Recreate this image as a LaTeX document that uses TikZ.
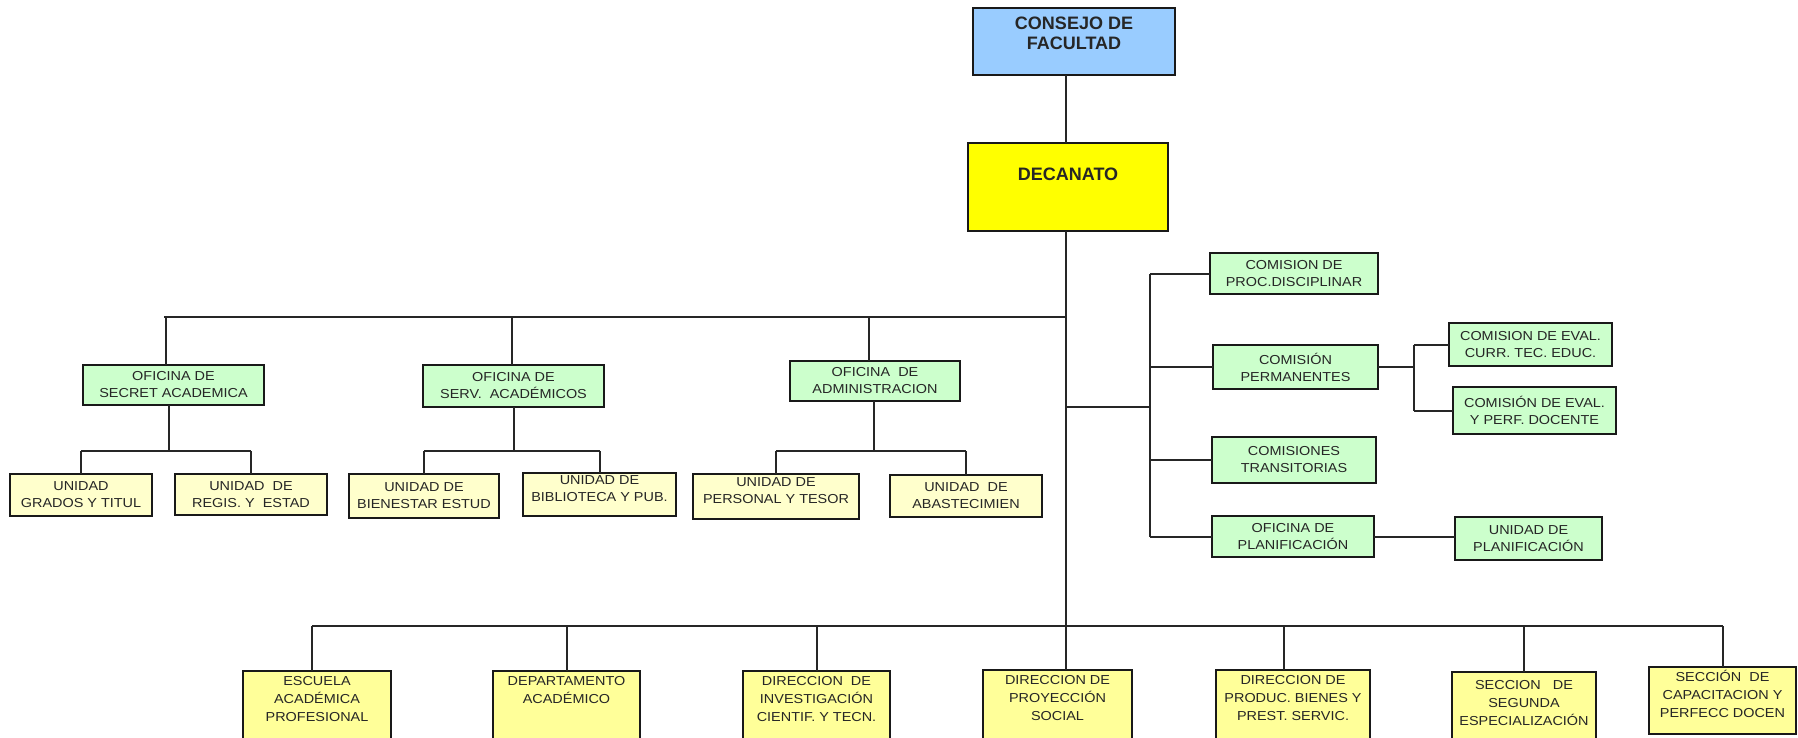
\documentclass[tikz,border=0pt]{standalone}
\usepackage{fontspec}
\newfontfamily\boxfont[FakeStretch=1.11]{Liberation Sans}
\newfontfamily\titlefont{Liberation Sans}
\usetikzlibrary{calc}
\definecolor{cblue}{HTML}{99CCFF}
\definecolor{cyel}{HTML}{FFFF00}
\definecolor{cgreen}{HTML}{CCFFCC}
\definecolor{clyel}{HTML}{FFFFCC}
\definecolor{cbyel}{HTML}{FFFF99}
\definecolor{ctext}{HTML}{262626}
\newcommand{\tbox}[4]{\parbox[c][#1][t]{#2}{\vspace*{#3}\centering #4\par}}
\tikzset{
  ob/.style={draw=black!90, line width=1.8pt, inner sep=0pt, outer sep=0pt, anchor=north west,
    align=center, font=\boxfont\fontsize{13}{17}\selectfont, text=ctext},
  bb/.style={ob, font=\boxfont\fontsize{13}{18}\selectfont},
  tb/.style={ob, font=\titlefont\bfseries\fontsize{18}{19.5}\selectfont},
  ln/.style={line width=2pt, draw=black!85}
}
\begin{document}
\begin{tikzpicture}[x=1pt,y=-1pt]
\useasboundingbox (0,0) rectangle (1798,737);
% top
\node[tb, fill=cblue, minimum width=202pt, minimum height=67pt] (cons) at (973,8)
  {\tbox{67pt}{202pt}{9pt}{CONSEJO DE\\FACULTAD}};
\node[tb, fill=cyel, minimum width=200pt, minimum height=88pt] (dec) at (968,143)
  {\tbox{88pt}{200pt}{25pt}{DECANATO}};
% offices
\node[ob, fill=cgreen, minimum width=181pt, minimum height=40pt] (sec) at (83,365) {OFICINA DE\\SECRET ACADEMICA};
\node[ob, fill=cgreen, minimum width=181pt, minimum height=42pt] (serv) at (423,365) {OFICINA DE\\SERV.\ \ ACADÉMICOS};
\node[ob, fill=cgreen, minimum width=170pt, minimum height=40pt] (adm) at (790,361) {OFICINA\ \ DE\\ADMINISTRACION};
% units
\node[ob, fill=clyel, minimum width=142pt, minimum height=42pt] (grad) at (10,474) {UNIDAD\\GRADOS Y TITUL};
\node[ob, fill=clyel, minimum width=152pt, minimum height=41pt] (regis) at (175,474) {UNIDAD\ \ DE\\REGIS. Y\ \ ESTAD};
\node[ob, fill=clyel, minimum width=150pt, minimum height=44pt] (bien) at (349,474) {UNIDAD DE\\BIENESTAR ESTUD};
\node[ob, fill=clyel, minimum width=153pt, minimum height=43pt] (bibl) at (523,473)
  {\tbox{43pt}{153pt}{3pt}{UNIDAD DE\\BIBLIOTECA Y PUB.}};
\node[ob, fill=clyel, minimum width=166pt, minimum height=45pt] (pers) at (693,474)
  {\tbox{45pt}{166pt}{4pt}{UNIDAD DE\\PERSONAL Y TESOR}};
\node[ob, fill=clyel, minimum width=152pt, minimum height=42pt] (abas) at (890,475) {UNIDAD\ \ DE\\ABASTECIMIEN};
% right side
\node[ob, fill=cgreen, minimum width=168pt, minimum height=41pt] (proc) at (1210,253) {COMISION DE\\PROC.DISCIPLINAR};
\node[ob, fill=cgreen, minimum width=165pt, minimum height=44pt] (perm) at (1213,345) {COMISIÓN\\PERMANENTES};
\node[ob, fill=cgreen, minimum width=164pt, minimum height=46pt] (trans) at (1212,437) {COMISIONES\\TRANSITORIAS};
\node[ob, fill=cgreen, minimum width=162pt, minimum height=41pt] (plan) at (1212,516) {OFICINA DE\\PLANIFICACIÓN};
\node[ob, fill=cgreen, minimum width=163pt, minimum height=43pt] (curr) at (1449,323) {COMISION DE EVAL.\\CURR. TEC. EDUC.};
\node[ob, fill=cgreen, minimum width=163pt, minimum height=47pt] (perf) at (1453,387) {COMISIÓN DE EVAL.\\Y PERF. DOCENTE};
\node[ob, fill=cgreen, minimum width=147pt, minimum height=43pt] (uplan) at (1455,517) {UNIDAD DE\\PLANIFICACIÓN};
% bottom row
\node[bb, fill=cbyel, minimum width=148pt, minimum height=74pt] (esc) at (243,671)
  {\tbox{74pt}{148pt}{5pt}{ESCUELA\\ACADÉMICA\\PROFESIONAL}};
\node[bb, fill=cbyel, minimum width=147pt, minimum height=74pt] (dept) at (493,671)
  {\tbox{74pt}{147pt}{5pt}{DEPARTAMENTO\\ACADÉMICO}};
\node[bb, fill=cbyel, minimum width=147pt, minimum height=74pt] (inv) at (743,671)
  {\tbox{74pt}{147pt}{5pt}{DIRECCION\ \ DE\\INVESTIGACIÓN\\CIENTIF. Y TECN.}};
\node[bb, fill=cbyel, minimum width=149pt, minimum height=75pt] (proy) at (983,670)
  {\tbox{75pt}{149pt}{5pt}{DIRECCION DE\\PROYECCIÓN\\SOCIAL}};
\node[bb, fill=cbyel, minimum width=154pt, minimum height=75pt] (prod) at (1216,670)
  {\tbox{75pt}{154pt}{5pt}{DIRECCION DE\\PRODUC. BIENES Y\\PREST. SERVIC.}};
\node[bb, fill=cbyel, minimum width=144pt, minimum height=73pt] (seg) at (1452,672)
  {\tbox{73pt}{144pt}{8pt}{SECCION\ \ \ DE\\SEGUNDA\\ESPECIALIZACIÓN}};
\node[bb, fill=cbyel, minimum width=147pt, minimum height=67pt] (cap) at (1649,667)
  {\tbox{67pt}{147pt}{3pt}{SECCIÓN\ \ DE\\CAPACITACION Y\\PERFECC DOCEN}};
% coordinates
\coordinate (T) at (1066,0);
\coordinate (busB) at (1066,626);
\coordinate (tbL) at (164,317);
\coordinate (sb) at (0,451);
\coordinate (RV) at (1150,407);
\coordinate (PV) at (1414,0);
\coordinate (d1) at (166,0);
\coordinate (d2) at (512,0);
\coordinate (d3) at (869,0);
\coordinate (e1) at (169,0);
\coordinate (e3) at (874,0);
\coordinate (b1) at (312,0);
\coordinate (b5) at (1284,0);
% trunk
\draw[ln] (cons.south -| T) -- (dec.north -| T);
\draw[ln] (dec.south -| T) -- (busB);
% top bus
\draw[ln] (tbL) -- (tbL -| T);
\draw[ln] (sec.north -| d1) -- (d1 |- tbL);
\draw[ln] (serv.north -| d2) -- (d2 |- tbL);
\draw[ln] (adm.north -| d3) -- (d3 |- tbL);
% sub-buses
\draw[ln] (sec.south -| e1) -- (e1 |- sb);
\draw[ln] (grad.north |- sb) -- (regis.north |- sb);
\draw[ln] (grad.north) -- (grad.north |- sb);
\draw[ln] (regis.north) -- (regis.north |- sb);
\draw[ln] (serv.south) -- (serv.south |- sb);
\draw[ln] (bien.north |- sb) -- (bibl.north |- sb);
\draw[ln] (bien.north) -- (bien.north |- sb);
\draw[ln] (bibl.north) -- (bibl.north |- sb);
\draw[ln] (adm.south -| e3) -- (e3 |- sb);
\draw[ln] (pers.north |- sb) -- (abas.north |- sb);
\draw[ln] (pers.north) -- (pers.north |- sb);
\draw[ln] (abas.north) -- (abas.north |- sb);
% right branch
\draw[ln] (T |- RV) -- (RV);
\draw[ln] (RV |- proc.west) -- (RV |- plan.west);
\draw[ln] (RV |- proc.west) -- (proc.west);
\draw[ln] (RV |- perm.west) -- (perm.west);
\draw[ln] (RV |- trans.west) -- (trans.west);
\draw[ln] (RV |- plan.west) -- (plan.west);
\draw[ln] (perm.east) -- (perm.east -| PV);
\draw[ln] (PV |- curr.west) -- (PV |- perf.west);
\draw[ln] (PV |- curr.west) -- (curr.west);
\draw[ln] (PV |- perf.west) -- (perf.west);
\draw[ln] (plan.east) -- (plan.east -| uplan.west);
% bottom bus
\draw[ln] (b1 |- busB) -- (cap.north |- busB);
\draw[ln] (esc.north -| b1) -- (b1 |- busB);
\draw[ln] (dept.north) -- (dept.north |- busB);
\draw[ln] (inv.north) -- (inv.north |- busB);
\draw[ln] (busB) -- (proy.north -| T);
\draw[ln] (prod.north -| b5) -- (b5 |- busB);
\draw[ln] (seg.north) -- (seg.north |- busB);
\draw[ln] (cap.north) -- (cap.north |- busB);
\end{tikzpicture}
\end{document}
